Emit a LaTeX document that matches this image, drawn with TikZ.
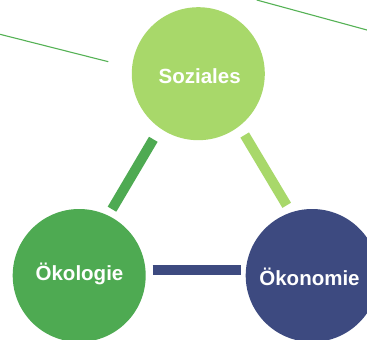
\documentclass[tikz,border=0pt]{standalone}
\usepackage{fontspec}
\setmainfont{Liberation Sans}
\definecolor{lgreen}{HTML}{A8D86A}
\definecolor{mgreen}{HTML}{4EAA52}
\definecolor{navy}{HTML}{3D4A80}
\definecolor{lineg}{HTML}{55B255}
\begin{document}
\begin{tikzpicture}[x=1pt,y=-1pt,
  disc/.style={circle,minimum size=133pt,inner sep=0pt,draw=none},
  lbl/.style={anchor=base,text=white,font=\fontsize{20.5}{24}\selectfont\bfseries,inner sep=0pt},
  bar/.style={line width=10pt,line cap=butt},
  thin/.style={draw=lineg,line width=1.1pt}]
\useasboundingbox (0,0) rectangle (367,340);
\clip (0,0) rectangle (367,340);
\fill[white] (0,0) rectangle (367,340);
% thin lines
\coordinate (l1a) at (0,34.3);
\coordinate (l1b) at (108.3,61.7);
\coordinate (l2a) at (256.7,0);
\coordinate (l2b) at (367,30);
\draw[thin] (l1a) -- (l1b);
\draw[thin] (l2a) -- (l2b);
% discs
\node[disc,fill=lgreen] (soz) at (198.3,73.7) {};
\node[disc,fill=mgreen] (oek) at (79.2,275.5) {};
\node[disc,fill=navy] (eco) at (312.2,275.5) {};
% labels
\node[lbl] (tsoz) at (199.7,83.3) {Soziales};
\node[lbl] (toek) at (79.5,280) {Ökologie};
\node[lbl] (teco) at (309.5,285) {Ökonomie};
% bars
\coordinate (b1a) at (153.3,139.3);
\coordinate (b1b) at (112,209.2);
\coordinate (b2a) at (244.7,135);
\coordinate (b2b) at (286.7,205.3);
\coordinate (b3a) at (152.7,270.3);
\coordinate (b3b) at (240.7,270.3);
\draw[bar,mgreen] (b1a) -- (b1b);
\draw[bar,lgreen] (b2a) -- (b2b);
\draw[bar,navy] (b3a) -- (b3b);
\end{tikzpicture}
\end{document}
